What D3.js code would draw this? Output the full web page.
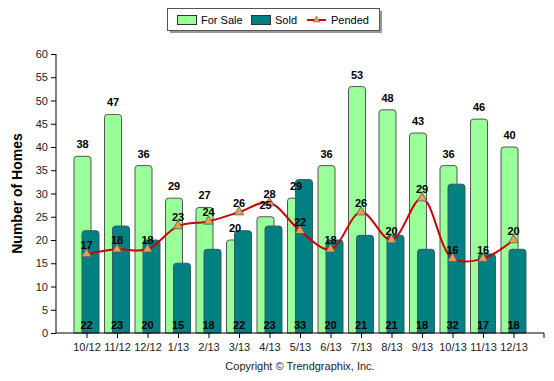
<!DOCTYPE html>
<html><head><meta charset="utf-8">
<script src="https://cdn.jsdelivr.net/npm/d3@7"></script>
<style>body{margin:0;background:#fff}svg{display:block}text{font-family:"Liberation Sans",Arial,sans-serif}</style>
</head><body><svg id="c" width="554" height="381"></svg>
<script>
const categories = ["10/12","11/12","12/12","1/13","2/13","3/13","4/13","5/13","6/13","7/13","8/13","9/13","10/13","11/13","12/13"];
const forSale = [38,47,36,29,27,20,25,29,36,53,48,43,36,46,40];
const sold = [22,23,20,15,18,22,23,33,20,21,21,18,32,17,18];
const pended = [17,18,18,23,24,26,28,22,18,26,20,29,16,16,20];
const yTicks = [0,5,10,15,20,25,30,35,40,45,50,55,60];

const svg = d3.select("#c");
const mL = 56, mR = 544, mT = 54, mB = 333;
const x = d3.scalePoint().domain(categories).range([mL, mR]).padding(1);
const y = d3.scaleLinear().domain([0,60]).range([mB, mT]);
const bw = 17, off = 4;

function roundTop(x0, y0, w, h, r) {
  r = Math.min(r, h, w/2);
  return `M${x0},${y0+h}V${y0+r}Q${x0},${y0} ${x0+r},${y0}H${x0+w-r}Q${x0+w},${y0} ${x0+w},${y0+r}V${y0+h}Z`;
}

svg.append("g").selectAll("path").data(forSale).join("path")
  .attr("d", (d,i) => roundTop(x(categories[i]) - off - bw/2, y(d), bw, mB - y(d), 3))
  .attr("fill", "#99FF99").attr("stroke", "#555").attr("stroke-width", 1);
svg.append("g").selectAll("path").data(sold).join("path")
  .attr("d", (d,i) => roundTop(x(categories[i]) + off - bw/2, y(d), bw, mB - y(d), 3))
  .attr("fill", "#008080").attr("stroke", "#2f5f5f").attr("stroke-width", 1);

const yAxis = svg.append("g").attr("transform", `translate(${mL},0)`)
  .call(d3.axisLeft(y).tickValues(yTicks).tickSize(5).tickPadding(3));
yAxis.select(".domain").attr("d", `M0,${mT}V${mB}`).attr("stroke", "#000");
yAxis.selectAll("text").attr("font-size", 11).attr("fill", "#222");
const xAxis = svg.append("g").attr("transform", `translate(0,${mB})`)
  .call(d3.axisBottom(x).tickSize(5).tickPadding(5));
xAxis.select(".domain").attr("d", `M${mL},0H${mR}V5`).attr("stroke", "#000");
xAxis.selectAll("text").attr("font-size", 11).attr("fill", "#222");

svg.append("text").attr("transform", `translate(22,${(mT+mB)/2}) rotate(-90)`)
  .attr("text-anchor", "middle").attr("font-size", 14).attr("font-weight", "bold").text("Number of Homes");

const line = d3.line().x((d,i) => x(categories[i])).y(d => y(d)).curve(d3.curveCatmullRom.alpha(0.5));
svg.append("path").datum(pended).attr("d", line).attr("fill", "none").attr("stroke", "#CC0000").attr("stroke-width", 2);
const tri = d3.symbol().type(d3.symbolTriangle).size(40);
svg.append("g").selectAll("path").data(pended).join("path")
  .attr("transform", (d,i) => `translate(${x(categories[i])},${y(d)})`)
  .attr("d", tri).attr("fill", "#F0A040").attr("stroke", "#4a5a80").attr("stroke-width", 0.8);

const lab = svg.append("g").attr("font-size", 11).attr("font-weight", "bold").attr("text-anchor", "middle").attr("fill", "#000");
lab.selectAll("text.fs").data(forSale).join("text").attr("class","fs")
  .attr("x", (d,i) => x(categories[i]) - off).attr("y", d => y(d) - 8).text(d => d);
lab.selectAll("text.sd").data(sold).join("text").attr("class","sd")
  .attr("x", (d,i) => x(categories[i])).attr("y", mB - 4).text(d => d);
lab.selectAll("text.pd").data(pended).join("text").attr("class","pd")
  .attr("x", (d,i) => x(categories[i])).attr("y", d => y(d) - 5).text(d => d);

const lg = svg.append("g");
lg.append("rect").attr("x", 170).attr("y", 11).attr("width", 212).attr("height", 22).attr("fill", "#999");
lg.append("rect").attr("x", 167.5).attr("y", 8.5).attr("width", 212).attr("height", 22).attr("fill", "#fff").attr("stroke", "#555");
lg.append("rect").attr("x", 177.5).attr("y", 15.5).attr("width", 19).attr("height", 9).attr("fill", "#99FF99").attr("stroke", "#333");
lg.append("text").attr("x", 201).attr("y", 24).attr("font-size", 11).text("For Sale");
lg.append("rect").attr("x", 251.5).attr("y", 15.5).attr("width", 19).attr("height", 9).attr("fill", "#008080").attr("stroke", "#333");
lg.append("text").attr("x", 275).attr("y", 24).attr("font-size", 11).text("Sold");
lg.append("line").attr("x1", 307).attr("x2", 326).attr("y1", 20).attr("y2", 20).attr("stroke", "#CC0000").attr("stroke-width", 2);
lg.append("path").attr("transform", "translate(316.5,20)").attr("d", d3.symbol().type(d3.symbolTriangle).size(20)).attr("fill", "#F0A040").attr("stroke", "#4a5a80").attr("stroke-width", 0.6);
lg.append("text").attr("x", 331).attr("y", 24).attr("font-size", 11).text("Pended");

svg.append("text").attr("x", 300).attr("y", 370).attr("text-anchor", "middle").attr("font-size", 11).attr("fill", "#222").text("Copyright © Trendgraphix, Inc.");
</script></body></html>
